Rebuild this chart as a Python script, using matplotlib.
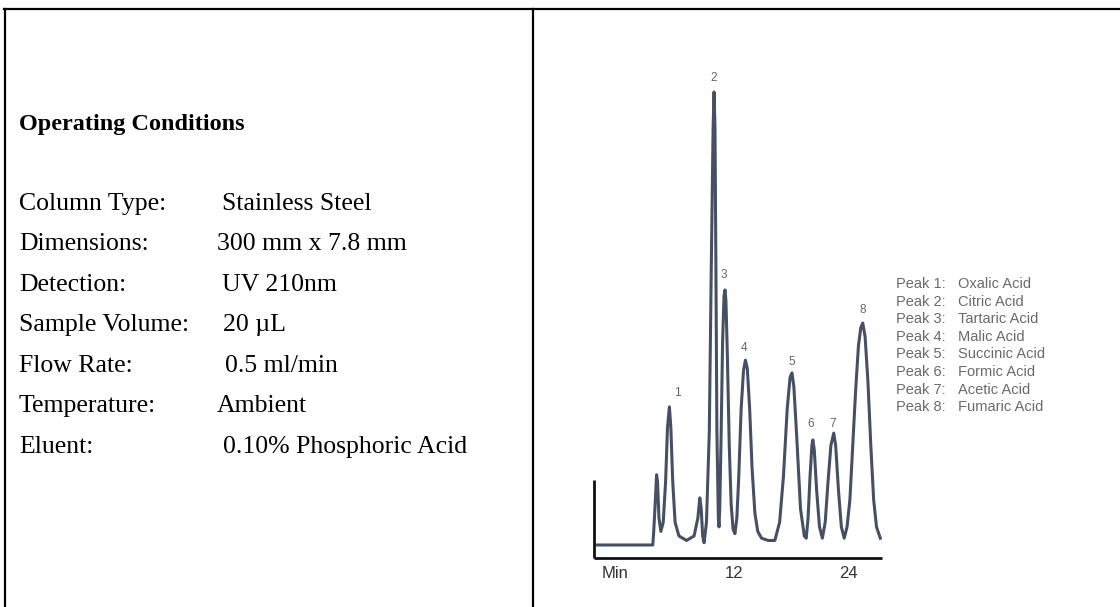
import matplotlib
matplotlib.use("Agg")
import matplotlib.pyplot as plt
from matplotlib.lines import Line2D

# ---------------- data ----------------
condition_labels = ["Column Type:", "Dimensions:", "Detection:", "Sample Volume:",
                    "Flow Rate:", "Temperature:", "Eluent:"]
condition_values = ["Stainless Steel", "300 mm x 7.8 mm", "UV 210nm", "20 µL",
                    "0.5 ml/min", "Ambient", "0.10% Phosphoric Acid"]

# chromatogram trace (time in min, relative signal)
trace_t = [-2.4, 3.45, 3.55, 3.7, 3.85, 3.95, 4.1, 4.3, 4.55, 4.8, 5.0, 5.2, 5.35, 5.55, 5.8,
           6.2, 7.0, 7.8, 8.2, 8.4, 8.55, 8.7, 8.85,
           9.1, 9.4, 9.6, 9.8, 9.9, 10.0, 10.1, 10.2, 10.35, 10.42,
           10.5, 10.65, 10.8, 10.95, 11.05, 11.15, 11.3, 11.5, 11.7, 11.9, 12.1,
           12.3, 12.5, 12.75, 13.0, 13.2, 13.4, 13.65, 13.9, 14.2, 14.5, 14.9, 15.6,
           16.3, 16.8, 17.2, 17.6, 17.9, 18.1, 18.3, 18.6, 19.0, 19.4, 19.6,
           19.8, 20.0, 20.2, 20.3, 20.45, 20.7, 21.0, 21.3,
           21.6, 21.9, 22.2, 22.5, 22.7, 23.0, 23.3, 23.6,
           23.9, 24.2, 24.5, 24.8, 25.1, 25.35, 25.55, 25.8, 26.1, 26.4, 26.7, 27.0, 27.4]
trace_y = [0, 0, 3, 9, 15.5, 14, 6, 3, 5, 14, 26, 30.5, 26, 14, 5,
           2, 1, 2, 6, 10.4, 8, 2, 0.5,
           5, 25, 60, 92, 100, 92, 60, 25, 6, 4,
           8, 25, 45, 55, 56.3, 54, 42, 22, 9, 3.5, 2.5,
           6, 15, 30, 38.5, 40.8, 39, 30, 17, 7, 3, 1.5, 1,
           1, 5, 15, 30, 37, 38, 35, 24, 8, 2, 1.5,
           6, 15, 22, 23.2, 21, 12, 4, 1.5,
           5, 14, 22, 24.7, 22, 12, 4, 1.5,
           4, 10, 22, 34, 44, 48, 49, 46, 36, 22, 10, 4, 1.5]

peak_numbers = ["1", "2", "3", "4", "5", "6", "7", "8"]
peak_label_t = [6.0, 9.89, 10.95, 13.05, 18.1, 20.1, 22.4, 25.5]
peak_label_y = [33.6, 103.1, 59.6, 43.5, 40.5, 26.7, 26.7, 51.9]

x_tick_pos = [12, 24]
x_tick_labels = ["12", "24"]

legend_ids = ["Peak 1:", "Peak 2:", "Peak 3:", "Peak 4:", "Peak 5:", "Peak 6:", "Peak 7:", "Peak 8:"]
legend_names = ["Oxalic Acid", "Citric Acid", "Tartaric Acid", "Malic Acid",
                "Succinic Acid", "Formic Acid", "Acetic Acid", "Fumaric Acid"]

# ---------------- figure ----------------
W, H = 1120, 607
fig = plt.figure(figsize=(W / 100, H / 100), dpi=100)
fig.patch.set_facecolor("white")

def fx(px):
    return px / W

def fy(py):
    return 1 - py / H

# table borders
lw_border = 1.6
fig.add_artist(Line2D([fx(4), fx(1120)], [fy(9), fy(9)], color="black", lw=lw_border))
fig.add_artist(Line2D([fx(5), fx(5)], [fy(9), fy(607)], color="black", lw=lw_border))
fig.add_artist(Line2D([fx(533), fx(533)], [fy(9), fy(607)], color="black", lw=lw_border))

serif = ["Liberation Serif", "DejaVu Serif"]
fig.text(fx(19), fy(124), "Operating Conditions", family=serif, weight="bold",
         fontsize=17.5, va="center", ha="left", color="black")
row_y = [204, 244, 285, 325, 366, 406, 447]
val_x = [222, 217, 222, 223, 225, 217, 223]
for lab, val, py, vx in zip(condition_labels, condition_values, row_y, val_x):
    fig.text(fx(19), fy(py), lab, family=serif, fontsize=18.5, va="center", ha="left", color="black")
    fig.text(fx(vx), fy(py), val, family=serif, fontsize=18.5, va="center", ha="left", color="black")

# chromatogram axes
ax_l, ax_r, ax_t, ax_b = 580, 890, 60, 590
ax = fig.add_axes([fx(ax_l), fy(ax_b), (ax_r - ax_l) / W, (ax_b - ax_t) / H])
ax.set_xlim((ax_l - 620) / 9.5, (ax_r - 620) / 9.5)
ax.set_ylim((545 - ax_b) / 4.53, (545 - ax_t) / 4.53)
ax.axis("off")

ax.plot(trace_t, trace_y, color="#465064", lw=2.2, solid_joinstyle="round")

x0 = (594 - 620) / 9.5
y0 = (545 - 558) / 4.53
ytop = (545 - 480) / 4.53
ax.plot([x0, 27.6], [y0, y0], color="#111111", lw=2.0, solid_capstyle="butt")
ax.plot([x0, x0], [y0, ytop], color="#111111", lw=2.0, solid_capstyle="butt")

sans = ["Liberation Sans", "DejaVu Sans"]
ty = (545 - 573) / 4.53
ax.text(-0.5, ty, "Min", family=sans, fontsize=12, color="#333333", ha="center", va="center")
for p, l in zip(x_tick_pos, x_tick_labels):
    ax.text(p, ty, l, family=sans, fontsize=12, color="#333333", ha="center", va="center")

for n, t, y in zip(peak_numbers, peak_label_t, peak_label_y):
    ax.text(t, y, n, family=sans, fontsize=8.5, color="#666666", ha="center", va="center")

for i, (pid, name) in enumerate(zip(legend_ids, legend_names)):
    py = 284 + i * 17.6
    fig.text(fx(896), fy(py), pid, family=sans, fontsize=10.5, color="#6a6a6a", va="center", ha="left")
    fig.text(fx(958), fy(py), name, family=sans, fontsize=10.5, color="#6a6a6a", va="center", ha="left")

fig.savefig("out.png", dpi=100, facecolor="white")
